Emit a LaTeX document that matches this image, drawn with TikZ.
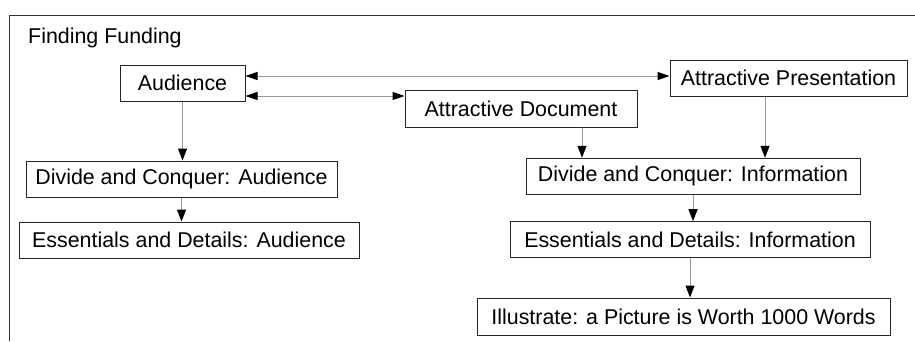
\documentclass[tikz,border=0pt]{standalone}
\usepackage{fontspec}
\setmainfont{Liberation Sans}
\usetikzlibrary{arrows.meta}

\begin{document}
\begin{tikzpicture}[x=1pt,y=-1pt]
% définition des paramètres
\tikzstyle cadrefunding=[color=black!80,line width=1pt]
\tikzstyle textefunding=[font=\fontsize{21.4pt}{25pt}\selectfont]
\tikzstyle boitefunding=[textefunding,draw=black!85,line width=1pt,minimum height=36pt,inner sep=0pt]
\tikzstyle flechefunding=[color=black!40,line width=1pt,-{Triangle[length=12pt,width=9pt,color=black]}]
\tikzstyle doubleflechefunding=[color=black!40,line width=1pt,{Triangle[length=12pt,width=8pt,color=black]}-{Triangle[length=12pt,width=8pt,color=black]}]
\newcommand{\cadrex}{9.5}  % abscisse du bord gauche
\newcommand{\cadrey}{15}   % ordonnée du bord haut
\useasboundingbox (0,0) rectangle (915,341);
% le cadre
\draw [cadrefunding] (\cadrex,341) -- (\cadrex,\cadrey) -- (915,\cadrey);
% le titre
\node [textefunding,anchor=base west,inner sep=0pt] (titre) at (28,43) {Finding Funding};
% les boîtes
\node [boitefunding,minimum width=125pt] (audience) at (182.5,83) {Audience};
\node [boitefunding,minimum width=237pt] (presentation) at (788.5,78) {Attractive Presentation};
\node [boitefunding,minimum width=232pt,minimum height=37pt] (document) at (521,108.5) {Attractive Document};
\node [boitefunding,minimum width=311pt] (diviseraud) at (181.5,179) {Divide and Conquer: Audience};
\node [boitefunding,minimum width=340pt] (essentielaud) at (189,240) {Essentials and Details: Audience};
\node [boitefunding,minimum width=334pt] (diviserinf) at (693,176.3) {Divide and Conquer: Information};
\node [boitefunding,minimum width=360pt] (essentielinf) at (690,239.7) {Essentials and Details: Information};
\node [boitefunding,minimum width=413pt,minimum height=37pt] (illustrer) at (683.5,316.5) {Illustrate: a Picture is Worth 1000 Words};
% les flèches
\draw [doubleflechefunding] ([yshift=7pt]audience.east) -- ([yshift=7pt]audience.east -| presentation.west);
\draw [doubleflechefunding] ([yshift=-13pt]audience.east) -- ([yshift=-13pt]audience.east -| document.west);
\draw [flechefunding] (audience.south) -- (audience.south |- diviseraud.north);
\draw [flechefunding] (diviseraud.south) -- (diviseraud.south |- essentielaud.north);
\draw [flechefunding] ([xshift=61pt]document.south) -- ([xshift=61pt]document.south |- diviserinf.north);
\draw [flechefunding] ([xshift=-23.5pt]presentation.south) -- ([xshift=-23.5pt]presentation.south |- diviserinf.north);
\draw [flechefunding] (diviserinf.south) -- (diviserinf.south |- essentielinf.north);
\draw [flechefunding] (essentielinf.south) -- (essentielinf.south |- illustrer.north);
\end{tikzpicture}
\end{document}
